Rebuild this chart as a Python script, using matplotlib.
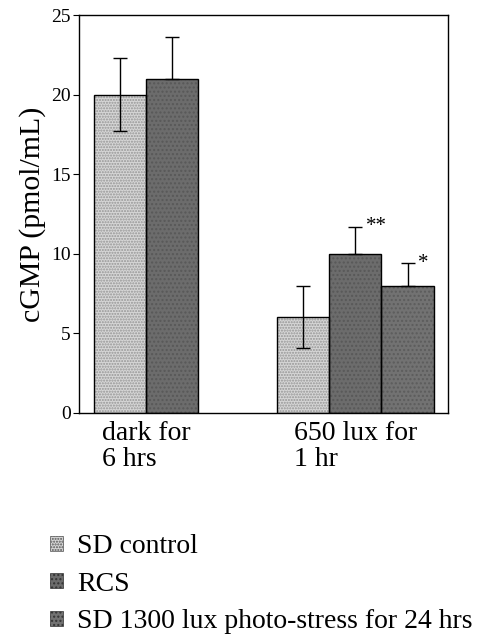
import numpy as np
import matplotlib
matplotlib.use("Agg")
from matplotlib import pyplot as plt
from matplotlib.patches import Patch

plt.rcParams['font.family'] = ['Liberation Serif', 'DejaVu Serif']

# values
groups = ["dark for\n6 hrs", "650 lux for\n1 hr"]
series = ["SD control", "RCS", "SD 1300 lux photo-stress for 24 hrs"]
# group 1 has no photo-stress bar
sd_ctrl = [20, 6]
sd_ctrl_err = [2.3, 1.95]
rcs = [21, 10]
rcs_err = [2.6, 1.7]
stress = [8]
stress_err = [1.4]
stars = ["**", "*"]

fig = plt.figure(figsize=(4.91, 6.34), dpi=100)
ax = fig.add_axes([0.161, 0.349, 0.751, 0.627])

base = np.array([0.78, 4.28])
w = 1.0

light = dict(facecolor="#d6d6d6", edgecolor="#959595", hatch="......", lw=0)
dark = dict(facecolor="#6c6c6c", edgecolor="#585858", hatch="....", lw=0)
dark2 = dict(facecolor="#727272", edgecolor="#5c5c5c", hatch="....", lw=0)

def draw(x, y, err, style, lower=True):
    ax.bar(x, y, w, **style, zorder=2)
    ax.bar(x, y, w, fill=False, edgecolor="black", lw=1.0, zorder=3)
    lo = np.array(err) if lower else np.zeros(len(err))
    ax.errorbar(x, y, yerr=[lo, err], fmt="none", ecolor="black",
                elinewidth=1.0, capsize=5, capthick=1.0, zorder=4)

draw(base, sd_ctrl, sd_ctrl_err, light)
draw(base + 1, rcs, rcs_err, dark, lower=False)
draw(base[1:] + 2, stress, stress_err, dark2, lower=False)

# significance marks
ax.text(base[1] + 1 + 0.2, rcs[1] + rcs_err[1], stars[0], fontsize=15,
        ha="left", va="center")
ax.text(base[1] + 2 + 0.2, stress[0] + stress_err[0], stars[1], fontsize=15,
        ha="left", va="center")

ax.set_xlim(0, 7.05)
ax.set_ylim(0, 25)
ax.set_yticks([0, 5, 10, 15, 20, 25])
ax.tick_params(axis="y", direction="out", length=4, labelsize=14, pad=2)
ax.set_xticks(base + np.array([0.5, 1.0]))
ax.set_xticklabels(groups, fontsize=20, multialignment="left", linespacing=1.05)
ax.tick_params(axis="x", length=0, pad=6)
ax.set_ylabel("cGMP (pmol/mL)", fontsize=21.5, labelpad=4)
for s in ax.spines.values():
    s.set_linewidth(1.0)

handles = [Patch(**{**light, "lw": 0.5, "edgecolor": "#555555"}),
           Patch(**{**dark, "lw": 0.5, "edgecolor": "#333333"}),
           Patch(**{**dark2, "lw": 0.5, "edgecolor": "#333333"})]
fig.legend(handles, series, loc="upper left", bbox_to_anchor=(0.08, 0.175),
           frameon=False, fontsize=20, handlelength=0.45, handleheight=0.45,
           handletextpad=0.5, labelspacing=0.45, borderaxespad=0)

fig.savefig("out.png", dpi=100)
